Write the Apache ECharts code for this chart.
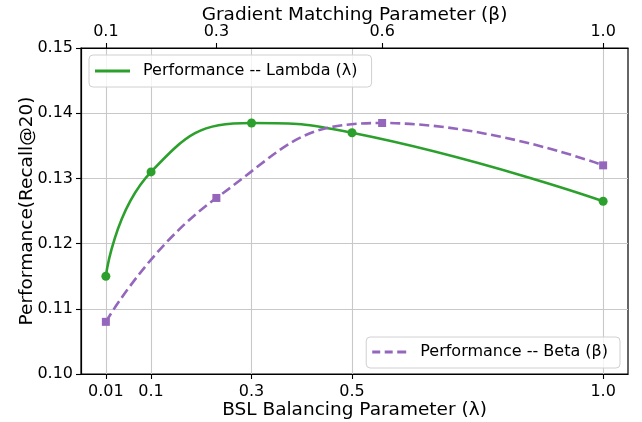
<!DOCTYPE html>
<html>
<head>
<meta charset="utf-8">
<script src="https://cdn.jsdelivr.net/npm/echarts@6/dist/echarts.min.js"></script>
<style>html,body{margin:0;padding:0;background:#fff;}#c{width:642px;height:422px;}</style>
</head>
<body>
<div id="c"></div>
<script>
const lambdaX = [0.01, 0.1, 0.3, 0.5, 1.0];
const lambdaY = [0.115, 0.131, 0.1385, 0.137, 0.1265];
const betaX = [0.1, 0.3, 0.6, 1.0];
const betaY = [0.108, 0.127, 0.1385, 0.132];
const bottomTicks = [0.01, 0.1, 0.3, 0.5, 1.0];
const bottomTickLabels = ['0.01', '0.1', '0.3', '0.5', '1.0'];
const topTicks = [0.1, 0.3, 0.6, 1.0];
const topTickLabels = ['0.1', '0.3', '0.6', '1.0'];
const yTicks = [0.10, 0.11, 0.12, 0.13, 0.14, 0.15];
const lambdaName = 'Performance -- Lambda (λ)';
const betaName = 'Performance -- Beta (β)';

const FONT = 'DejaVu Sans';
const chart = echarts.init(document.getElementById('c'), null, {renderer: 'canvas'});

function labelFor(ticks, labels) {
  return function (v) {
    for (let i = 0; i < ticks.length; i++) if (Math.abs(ticks[i] - v) < 1e-9) return labels[i];
    return '';
  };
}

const option = {
  animation: false,
  backgroundColor: '#fff',
  textStyle: {fontFamily: FONT},
  grid: {left: 81, right: 14, top: 48, bottom: 48, containLabel: false, outerBoundsMode: 'none',
         show: true, borderColor: '#000', borderWidth: 1.2, backgroundColor: 'transparent'},
  xAxis: [
    {
      type: 'value', position: 'bottom', min: -0.0395, max: 1.0495,
      name: 'BSL Balancing Parameter (λ)', nameLocation: 'middle', nameGap: 27, nameMoveOverlap: false,
      nameTextStyle: {fontSize: 18.5, color: '#000', fontFamily: FONT},
      axisLine: {show: true, onZero: false, lineStyle: {color: '#000', width: 1.2}},
      axisTick: {show: true, inside: false, length: 5, customValues: bottomTicks, lineStyle: {color: '#000', width: 1.1}},
      axisLabel: {show: true, customValues: bottomTicks, formatter: labelFor(bottomTicks, bottomTickLabels), fontSize: 16, color: '#000', margin: 10, fontFamily: FONT},
      splitLine: {show: true, lineStyle: {color: '#c8c8c8', width: 1.1}}
    },
    {
      type: 'value', position: 'top', min: 0.055, max: 1.045,
      name: 'Gradient Matching Parameter (β)', nameLocation: 'middle', nameGap: 23, nameMoveOverlap: false,
      nameTextStyle: {fontSize: 18.5, color: '#000', fontFamily: FONT},
      axisLine: {show: true, onZero: false, lineStyle: {color: '#000', width: 1.2}},
      axisTick: {show: true, inside: false, length: 5, customValues: topTicks, lineStyle: {color: '#000', width: 1.1}},
      axisLabel: {show: true, customValues: topTicks, formatter: labelFor(topTicks, topTickLabels), fontSize: 16, color: '#000', margin: 8, fontFamily: FONT},
      splitLine: {show: false}
    }
  ],
  yAxis: {
    type: 'value', min: 0.10, max: 0.15, interval: 0.01,
    name: 'Performance(Recall@20)', nameLocation: 'middle', nameGap: 44, nameMoveOverlap: false,
    nameTextStyle: {fontSize: 18.5, color: '#000', fontFamily: FONT},
    axisLine: {show: true, onZero: false, lineStyle: {color: '#000', width: 1.2}},
    axisTick: {show: true, inside: false, length: 5, lineStyle: {color: '#000', width: 1.1}},
    axisLabel: {fontSize: 16, color: '#000', margin: 8, fontFamily: FONT, formatter: v => v.toFixed(2)},
    splitLine: {show: true, lineStyle: {color: '#c8c8c8', width: 1.1}}
  },
  legend: [
    {
      left: 89, top: 55, orient: 'vertical',
      data: [{name: lambdaName, icon: 'path://M0,0H35V3H0Z'}],
      itemWidth: 35, itemHeight: 3,
      padding: [8, 14, 8, 6],
      borderColor: '#d0d0d0', borderWidth: 1, borderRadius: 4, backgroundColor: 'rgba(255,255,255,0.8)',
      textStyle: {fontSize: 16, color: '#000', fontFamily: FONT, padding: [0, 0, 0, 8]}
    },
    {
      right: 22, top: 337, orient: 'vertical',
      data: [{name: betaName, icon: 'path://M0,0H8V3H0Z M12.5,0H20.5V3H12.5Z M25,0H34V3H25Z'}],
      itemWidth: 34, itemHeight: 3,
      padding: [7, 12, 8, 6],
      borderColor: '#d0d0d0', borderWidth: 1, borderRadius: 4, backgroundColor: 'rgba(255,255,255,0.8)',
      textStyle: {fontSize: 16, color: '#000', fontFamily: FONT, padding: [0, 0, 0, 9]}
    }
  ],
  series: [
    {
      name: lambdaName, type: 'line', xAxisIndex: 0,
      data: lambdaX.map((x, i) => [x, lambdaY[i]]),
      smooth: 0.5, symbol: 'circle', symbolSize: 9,
      itemStyle: {color: '#2ca02c'},
      lineStyle: {color: '#2ca02c', width: 2.6}
    },
    {
      name: betaName, type: 'line', xAxisIndex: 1,
      data: betaX.map((x, i) => [x, betaY[i]]),
      smooth: 0.5, symbol: 'rect', symbolSize: 8,
      itemStyle: {color: '#9467bd'},
      lineStyle: {color: '#9467bd', width: 2.6, type: [10, 4.5]}
    }
  ]
};
chart.setOption(option);
</script>
</body>
</html>
